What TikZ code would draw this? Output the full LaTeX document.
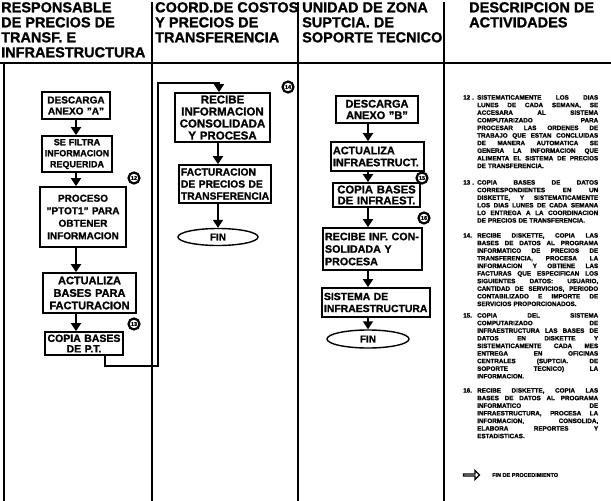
\documentclass[tikz,border=0pt]{standalone}
\usepackage{fontspec}
\setmainfont{Liberation Sans}[BoldFeatures={FakeBold=1.2}]
\usetikzlibrary{arrows.meta,shapes.geometric,shapes.arrows}
\newcommand\fz[2]{\fontsize{#1}{#2}\selectfont\bfseries}
\newcommand\dfirst[2]{\hbox to 135pt{\hbox to 14pt{#1\hfil}\spaceskip=.3em plus 1fil\relax #2}\\}
\newcommand\dline[1]{\hspace*{14pt}\hbox to 121pt{\spaceskip=.3em plus 1fil\relax #1}\\}
\newcommand\dlast[1]{\hspace*{14pt}#1}
\hbadness=10000
\tikzset{
  colline/.style={line width=1.3pt},
  pbox/.style={draw, line width=1.7pt, inner sep=2pt, align=center},
  lbox/.style={pbox, align=left},
  flow/.style={line width=1.8pt, -{Triangle[width=10pt,length=8pt]}},
  link/.style={line width=1.3pt, -{Triangle[width=10pt,length=8pt]}},
  num/.style={circle, draw, line width=2.2pt, inner sep=0pt, minimum size=11pt, font=\fz{5.5}{5.5}},
  hdr/.style={anchor=north west, inner sep=0pt, align=left, font=\fz{14.5}{15}},
  desc/.style={anchor=north west, inner sep=0pt, align=left, text width=135pt, font=\fz{6.3}{7.6}},
  endoval/.style={ellipse, draw, line width=1.4pt, inner sep=0pt, font=\fz{10}{10}},
}
\begin{document}
\begin{tikzpicture}[x=1pt,y=-1pt]
\useasboundingbox (0,0) rectangle (611,501);
\fill[white] (0,0) rectangle (611,501);

% frame
\draw[line width=1.5pt] (0,63) -- (611,63);
\draw[colline] (4,63) -- (4,501);
\draw[colline] (152,2) -- (152,501);
\draw[colline] (298,2) -- (298,501);
\draw[colline] (444,2) -- (444,501);

% headers
\node[hdr] (h1) at (1,2) {RESPONSABLE\\DE PRECIOS DE\\TRANSF. E\\INFRAESTRUCTURA};
\node[hdr] (h2) at (155,2) {COORD.DE COSTOS\\Y PRECIOS DE\\TRANSFERENCIA};
\node[hdr] (h3) at (302,2) {UNIDAD DE ZONA\\SUPTCIA. DE\\SOPORTE TECNICO};
\node[hdr] (h4) at (469,2) {DESCRIPCION DE\\ACTIVIDADES};

% column 1
\node[pbox, text width=64pt, minimum height=27pt, font=\fz{10}{11}] (a1) at (76,105.5) {DESCARGA\\ANEXO "A"};
\node[pbox, text width=66pt, minimum height=36pt, font=\fz{9}{11}] (a2) at (77,154) {SE FILTRA\\INFORMACION\\REQUERIDA};
\node[pbox, text width=82pt, minimum height=60pt, font=\fz{10}{12.5}] (a3) at (83,217) {PROCESO\\"PTOT1" PARA\\OBTENER\\INFORMACION};
\node[pbox, text width=89pt, minimum height=40pt, font=\fz{11}{12.5}] (a4) at (89.5,293) {ACTUALIZA\\BASES PARA\\FACTURACION};
\node[pbox, text width=74pt, minimum height=23pt, font=\fz{10.5}{10.5}] (a5) at (84,343.5) {COPIA BASES\\DE P.T.};
\coordinate (ax) at (76,0);
\draw[flow] (a1.south -| ax) -- (a2.north -| ax);
\draw[flow] (a2.south -| ax) -- (a3.north -| ax);
\draw[flow] (a3.south -| ax) -- (a4.north -| ax);
\draw[flow] (a4.south -| ax) -- (a5.north -| ax);
\node[num] (n12) at (134,178) {12};
\node[num] (n13) at (134,324) {13};

% column 2
\node[pbox, text width=91pt, minimum height=49pt, font=\fz{11.5}{12}] (b1) at (222.5,117.5) {RECIBE\\INFORMACION\\CONSOLIDADA\\Y PROCESA};
\node[lbox, text width=88pt, minimum height=38pt, font=\fz{10.3}{12}] (b2) at (225,184) {FACTURACION\\DE PRECIOS DE\\TRANSFERENCIA};
\node[endoval, minimum width=80pt, minimum height=17pt] (b3) at (218,237) {FIN};
\draw[flow] (b1.south -| b3) -- (b2.north -| b3);
\draw[flow] (b2.south -| b3) -- (b3.north);
\node[num] (n14) at (288,87) {14};

% connector col1 -> col2
\coordinate (kx) at (105,366);
\coordinate (kb) at (158,366);
\coordinate (kt) at (158,83);
\coordinate (kr) at (219,83);
\draw[link] (a5.south -| kx) -- (kx) -- (kb) -- (kt) -- (kr) -- (b1.north -| kr);

% column 3
\node[pbox, text width=78pt, minimum height=27pt, font=\fz{11}{11.5}] (c1) at (377,109.5) {DESCARGA\\ANEXO "B"};
\node[lbox, text width=89pt, minimum height=29pt, font=\fz{10.8}{12}] (c2) at (377.5,156.5) {ACTUALIZA\\INFRAESTRUCT.};
\node[pbox, text width=83pt, minimum height=24pt, font=\fz{11.3}{11}] (c3) at (376.5,195) {COPIA BASES\\DE INFRAEST.};
\node[lbox, text width=95pt, minimum height=42pt, font=\fz{10.7}{12.5}] (c4) at (372.5,249) {RECIBE INF. CON-\\SOLIDADA Y\\PROCESA};
\node[lbox, text width=104pt, minimum height=29pt, font=\fz{10.4}{12}] (c5) at (376,302.5) {SISTEMA DE\\INFRAESTRUCTURA};
\node[endoval, minimum width=82pt, minimum height=18pt] (c6) at (368,339) {FIN};
\draw[flow] (c1.south -| c6) -- (c2.north -| c6);
\draw[flow] (c2.south -| c6) -- (c3.north -| c6);
\draw[flow] (c3.south -| c6) -- (c4.north -| c6);
\draw[flow] (c4.south -| c6) -- (c5.north -| c6);
\draw[flow] (c5.south -| c6) -- (c6.north);
\node[num] (n15) at (422,178) {15};
\node[num] (n16) at (424,218) {16};

% descriptions
\node[desc] (d12) at (463,95) {\dfirst{12 .}{SISTEMATICAMENTE LOS DIAS}\dline{LUNES DE CADA SEMANA, SE}\dline{ACCESARA AL SISTEMA}\dline{COMPUTARIZADO PARA}\dline{PROCESAR LAS ORDENES DE}\dline{TRABAJO QUE ESTAN CONCLUIDAS}\dline{DE MANERA AUTOMATICA SE}\dline{GENERA LA INFORMACION QUE}\dline{ALIMENTA EL SISTEMA DE PRECIOS}\dlast{DE TRANSFERENCIA.}};
\node[desc] (d13) at (463,180) {\dfirst{13 .}{COPIA BASES DE DATOS}\dline{CORRESPONDIENTES EN UN}\dline{DISKETTE, Y SISTEMATICAMENTE}\dline{LOS DIAS LUNES DE CADA SEMANA}\dline{LO ENTREGA A LA COORDINACION}\dlast{DE PRECIOS DE TRANSFERENCIA.}};
\node[desc] (d14) at (463,233) {\dfirst{14.}{RECIBE DISKETTE, COPIA LAS}\dline{BASES DE DATOS AL PROGRAMA}\dline{INFORMATICO DE PRECIOS DE}\dline{TRANSFERENCIA, PROCESA LA}\dline{INFORMACION Y OBTIENE LAS}\dline{FACTURAS QUE ESPECIFICAN LOS}\dline{SIGUIENTES DATOS: USUARIO,}\dline{CANTIDAD DE SERVICIOS, PERIODO}\dline{CONTABILIZADO E IMPORTE DE}\dlast{SERVICIOS PROPORCIONADOS.}};
\node[desc] (d15) at (463,313) {\dfirst{15.}{COPIA DEL SISTEMA}\dline{COMPUTARIZADO DE}\dline{INFRAESTRUCTURA LAS BASES DE}\dline{DATOS EN DISKETTE Y}\dline{SISTEMATICAMENTE CADA MES}\dline{ENTREGA EN OFICINAS}\dline{CENTRALES (SUPTCIA. DE}\dline{SOPORTE TECNICO) LA}\dlast{INFORMACION.}};
\node[desc] (d16) at (463,388) {\dfirst{16.}{RECIBE DISKETTE, COPIA LAS}\dline{BASES DE DATOS AL PROGRAMA}\dline{INFORMATICO DE}\dline{INFRAESTRUCTURA, PROCESA LA}\dline{INFORMACION, CONSOLIDA,}\dline{ELABORA REPORTES Y}\dlast{ESTADISTICAS.}};

% legend
\node[single arrow, draw, line width=1.2pt, minimum height=16pt, minimum width=9pt, single arrow head extend=2pt, inner sep=0pt] (farr) at (471,475) {};
\node[anchor=west, inner sep=0pt, font=\fz{5.5}{6}] (ftx) at (492,475) {FIN DE PROCEDIMIENTO};
\end{tikzpicture}
\end{document}
